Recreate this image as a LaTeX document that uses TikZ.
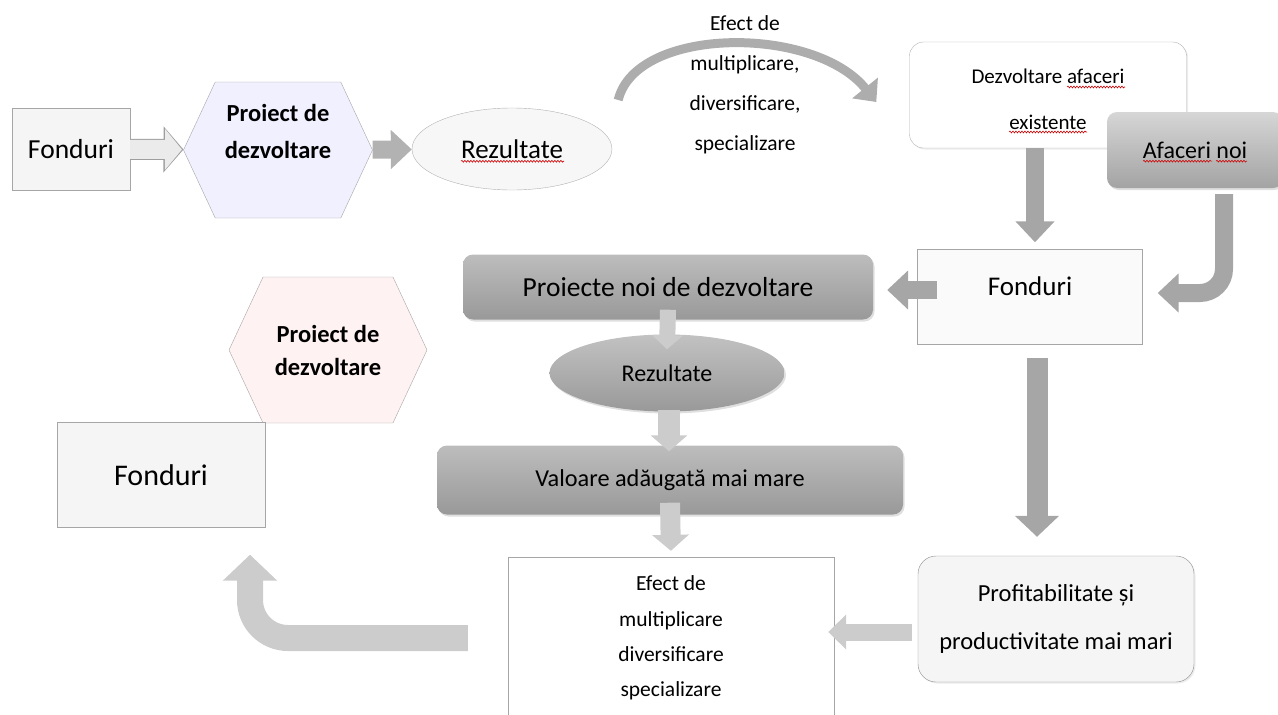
\documentclass[tikz,border=0pt]{standalone}
\usepackage{fontspec}
\setmainfont{Carlito}
\usetikzlibrary{arrows.meta,shapes.geometric,shapes.symbols,shadows,decorations.pathmorphing}

\tikzset{
  plainbox/.style={rectangle, draw=black!35, fill=black!4, inner sep=0pt},
  roundbox/.style={rectangle, draw=black!30, fill=white, rounded corners=14pt, inner sep=0pt,
    drop shadow={opacity=0.15, shadow xshift=1.5pt, shadow yshift=-1.5pt}},
  greybox/.style={rectangle, draw=none, top color=black!26, bottom color=black!40, rounded corners=10pt, inner sep=0pt,
    drop shadow={opacity=0.25, shadow xshift=1.5pt, shadow yshift=-2pt}},
  hexa/.style={signal, signal to=west and east, signal pointer angle=130, draw=black!35, inner sep=0pt,
    font=\bfseries\fontsize{24.5}{37}\selectfont, align=center},
  fat/.style={line width=18pt, draw=black!35, -{Triangle[length=21pt,width=38pt]}},
  pale/.style={line width=17pt, draw=black!20, -{Triangle[length=17pt,width=34pt]}},
  squiggle/.style={draw=red!80!black, line width=0.6pt, decorate, decoration={snake, amplitude=0.9pt, segment length=3pt}},
}

\begin{document}
\begin{tikzpicture}[x=1pt,y=-1pt]
  \useasboundingbox (0,0) rectangle (1278,715);

  % first chain
  \node[plainbox, minimum width=118pt, minimum height=82pt, font=\fontsize{27.5}{33}\selectfont] (fond1) at (71,149) {Fonduri};
  \node[hexa, fill=blue!6, minimum width=189pt, minimum height=136pt] (hex1) at (278,150) {Proiect de\\dezvoltare\\\mbox{}};
  \node[ellipse, draw=black!30, fill=black!3, minimum width=200pt, minimum height=82pt, inner sep=0pt, font=\fontsize{27}{33}\selectfont] (rez1) at (512,149) {Rezultate};
  \node[font=\fontsize{21.5}{40}\selectfont, align=center] (efect1) at (745,85) {Efect de\\multiplicare,\\diversificare,\\specializare};
  \node[roundbox, minimum width=277pt, minimum height=106pt, text height=70pt, font=\fontsize{21}{46}\selectfont, align=center] (dezv) at (1048,95) {Dezvoltare afaceri\\existente};
  \node[greybox, top color=black!16, bottom color=black!36, minimum width=176pt, minimum height=76pt, font=\fontsize{24}{30}\selectfont] (afnoi) at (1195,150) {Afaceri noi};

  % middle
  \node[plainbox, fill=black!2, minimum width=225pt, minimum height=95pt, text depth=22pt, font=\fontsize{27}{33}\selectfont] (fond2) at (1030,297) {Fonduri};
  \node[greybox, minimum width=410pt, minimum height=65pt, font=\fontsize{27.5}{33}\selectfont] (pnoi) at (668,287) {Proiecte noi de dezvoltare};
  \node[ellipse, top color=black!24, bottom color=black!40, minimum width=235pt, minimum height=77pt, inner sep=0pt,
    drop shadow={opacity=0.25, shadow xshift=1.5pt, shadow yshift=-2pt}, font=\fontsize{24}{30}\selectfont] (rez2) at (667,373) {Rezultate};
  \node[greybox, minimum width=466pt, minimum height=69pt, font=\fontsize{24.3}{30}\selectfont] (valm) at (670,480) {Valoare adăugată mai mare};

  % bottom
  \node[plainbox, fill=white, minimum width=326pt, minimum height=162pt, font=\fontsize{21.5}{35.3}\selectfont, align=center] (efect2) at (671,638) {Efect de\\multiplicare\\diversificare\\specializare};
  \node[roundbox, fill=black!4, draw=black!45, rounded corners=18pt, minimum width=276pt, minimum height=126pt, font=\fontsize{24.5}{48}\selectfont, align=center] (prof) at (1056,619) {Profitabilitate și\\productivitate mai mari};
  \node[hexa, fill=red!5, minimum width=198pt, minimum height=146pt, font=\bfseries\fontsize{24.5}{33}\selectfont] (hex2) at (328,350) {Proiect de\\dezvoltare};
  \node[plainbox, minimum width=208pt, minimum height=105pt, font=\fontsize{30}{36}\selectfont] (fond3) at (161,475) {Fonduri};

  % arrows
  \draw[pale, draw=black!38, line width=21pt, -{Triangle[length=20pt,width=45pt]}] (fond1) -- (hex1);
  \draw[pale, draw=black!8, line width=19pt, -{Triangle[length=17pt,width=40pt]}, shorten >=1.5pt] (fond1) -- (hex1);
  \draw[fat, draw=black!30] (hex1) -- (rez1);
  \draw[line width=9pt, draw=black!32, -{Triangle[length=18pt,width=32pt]}] ([xshift=6pt,yshift=49pt]rez1.east) .. controls +(18,-74) and +(-62,-77) .. ([xshift=-33pt,yshift=-7pt]dezv.west);
  \draw[fat, shorten >=7pt] ([xshift=-13pt]dezv.south) -- ([xshift=-13pt]dezv.south |- fond2.north);
  \draw[fat, rounded corners=24pt] ([xshift=29pt,yshift=-6pt]afnoi.south) |- ([xshift=15pt,yshift=4pt]fond2.east);
  \draw[fat, shorten >=14pt] ([xshift=20pt,yshift=7pt]fond2.west) -- ([yshift=7pt]fond2.west -| pnoi.east);
  \draw[pale, line width=16pt, -{Triangle[length=14pt,width=30pt]}] ([yshift=10pt]pnoi.south) -- ([yshift=-15pt]rez2.north);
  \draw[pale, line width=22pt, -{Triangle[length=16pt,width=36pt]}] ([xshift=2pt,yshift=2pt]rez2.south) -- ([xshift=-1pt,yshift=-6pt]valm.north);
  \draw[pale, line width=20pt, -{Triangle[length=16pt,width=36pt]}, shorten >=6pt] ([yshift=12pt]valm.south) -- (efect2.north);
  \draw[fat, line width=21pt, -{Triangle[length=21pt,width=43pt]}, shorten >=19pt] ([xshift=7pt,yshift=-13pt]fond2.south) -- ([xshift=7pt]fond2.south |- prof.north);
  \draw[pale, -{Triangle[length=18pt,width=34pt]}] ([xshift=-6pt,yshift=-13pt]prof.west) -- ([xshift=-6pt,yshift=-13pt]prof.west -| efect2.east);
  \draw[pale, line width=26pt, -{Triangle[length=26pt,width=53pt]}, rounded corners=38pt, shorten >=27pt] ([xshift=-40pt]efect2.west) -| ([xshift=89pt]fond3.south);

  % spell-check marks
  \draw[squiggle] ([xshift=-51pt,yshift=-3pt]rez1.base) -- ([xshift=52pt,yshift=-3pt]rez1.base);
  \draw[squiggle] ([xshift=-52pt,yshift=-3pt]afnoi.base) -- ([xshift=17pt,yshift=-3pt]afnoi.base);
  \draw[squiggle] ([xshift=21pt,yshift=-3pt]afnoi.base) -- ([xshift=52pt,yshift=-3pt]afnoi.base);
  \draw[squiggle] ([xshift=19pt,yshift=8pt]dezv.center) -- ([xshift=77pt,yshift=8pt]dezv.center);
  \draw[squiggle] ([xshift=-39pt,yshift=-37pt]dezv.center) -- ([xshift=39pt,yshift=-37pt]dezv.center);
\end{tikzpicture}
\end{document}
